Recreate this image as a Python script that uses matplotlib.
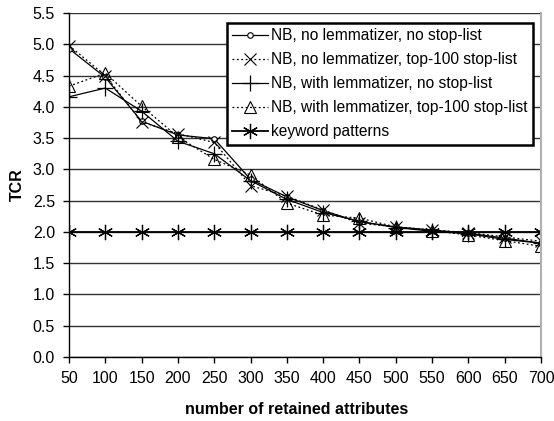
import numpy as np
import matplotlib
matplotlib.use("Agg")
import matplotlib.pyplot as plt

plt.rcParams['font.family'] = ['Liberation Sans', 'DejaVu Sans']

# number of retained attributes
attrs = [50, 100, 150, 200, 250, 300, 350, 400, 450, 500, 550, 600, 650, 700]

# TCR values
nb_nolem_nostop = [4.93, 4.47, 3.77, 3.55, 3.49, 2.84, 2.56, 2.34, 2.16, 2.08, 2.03, 1.98, 1.90, 1.82]
nb_nolem_top100 = [4.98, 4.50, 3.76, 3.57, 3.43, 2.74, 2.57, 2.35, 2.14, 2.08, 2.03, 1.99, 1.92, 1.85]
nb_lem_nostop = [4.16, 4.30, 3.93, 3.45, 3.25, 2.82, 2.52, 2.31, 2.17, 2.07, 2.01, 1.97, 1.88, 1.82]
nb_lem_top100 = [4.33, 4.54, 4.01, 3.52, 3.16, 2.91, 2.46, 2.27, 2.22, 2.08, 2.02, 1.95, 1.86, 1.77]
keyword = [2.0] * len(attrs)

labels = ['NB, no lemmatizer, no stop-list',
          'NB, no lemmatizer, top-100 stop-list',
          'NB, with lemmatizer, no stop-list',
          'NB, with lemmatizer, top-100 stop-list',
          'keyword patterns']

fig = plt.figure(figsize=(5.54, 4.21), dpi=100)
ax = fig.add_axes([69 / 554, 64 / 421, 472 / 554, 344 / 421])

ax.plot(attrs, nb_nolem_nostop, color='black', lw=0.9, ls='-', marker='o',
        ms=4, mfc='white', mec='black', mew=0.8, label=labels[0])
ax.plot(attrs, nb_nolem_top100, color='black', lw=0.9, ls=(0, (1.5, 2)), marker='x',
        ms=8, mec='black', mew=0.8, label=labels[1])
ax.plot(attrs, nb_lem_nostop, color='black', lw=0.9, ls='-', marker='+',
        ms=11, mec='black', mew=0.9, label=labels[2])
ax.plot(attrs, nb_lem_top100, color='black', lw=0.9, ls=(0, (1.5, 2)), marker='^',
        ms=8, mfc='none', mec='black', mew=0.8, label=labels[3])
ax.plot(attrs, keyword, color='black', lw=1.3, ls='-', marker=(6, 2, 0),
        ms=11, mec='black', mew=0.9, label=labels[4])

ax.set_xlim(50, 700)
ax.set_ylim(0, 5.5)
ax.set_xticks(attrs)
ax.set_yticks(np.arange(0, 5.51, 0.5))
ax.set_yticklabels(['%.1f' % v for v in np.arange(0, 5.51, 0.5)])
ax.yaxis.grid(True, color='#333333', lw=1.0)
ax.set_axisbelow(True)
ax.tick_params(axis='both', labelsize=11.5, direction='out', length=4, width=1)
ax.tick_params(axis='x', pad=6)
ax.tick_params(axis='y', pad=6)

ax.spines['top'].set_visible(False)
ax.spines['right'].set_color('#b0b0b0')
ax.spines['right'].set_linewidth(1.5)
ax.spines['left'].set_linewidth(1.0)
ax.spines['bottom'].set_linewidth(1.0)
for s in ax.spines.values():
    s.set_clip_on(False)

ax.set_xlabel('number of retained attributes', fontsize=11.5, fontweight='bold', labelpad=11)
ax.xaxis.set_label_coords(0.482, -0.13)
ax.set_ylabel('TCR', fontsize=11.5, fontweight='bold', labelpad=6)

leg = ax.legend(loc='upper right', bbox_to_anchor=(0.983, 0.972), fontsize=11.2,
                frameon=True, fancybox=False, shadow=False, handlelength=2.3,
                handletextpad=0.2, borderpad=0.35, labelspacing=0.58, borderaxespad=0)
leg.get_frame().set_edgecolor('black')
leg.get_frame().set_linewidth(1.8)
leg.get_frame().set_alpha(1)

fig.savefig('out.png', dpi=100)
